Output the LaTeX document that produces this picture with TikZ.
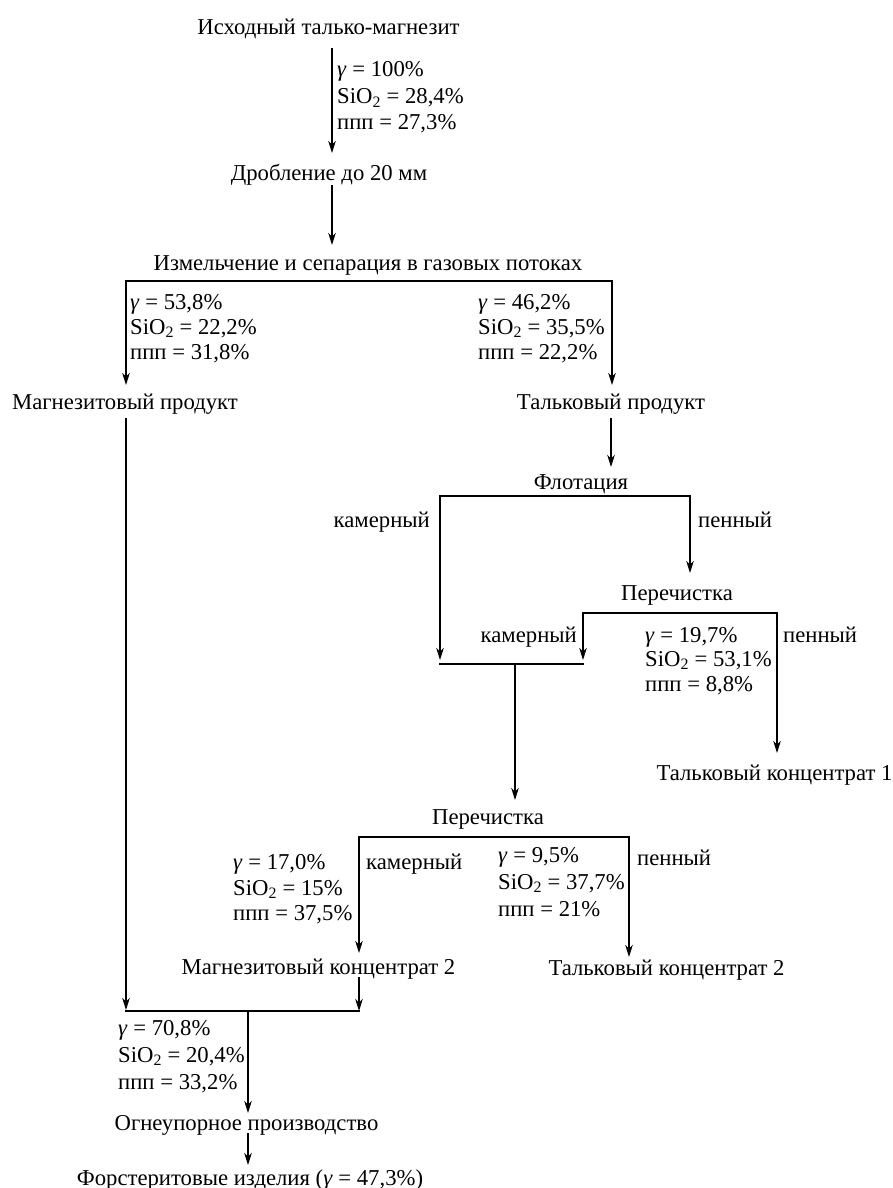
\documentclass[tikz,border=0pt]{standalone}
\usepackage{fontspec}
\setmainfont{Liberation Serif}
\usetikzlibrary{arrows.meta}
\newcommand{\gam}{\textit{γ}}
\begin{document}
\begin{tikzpicture}[x=1pt,y=-1pt,
  font=\fontsize{22.7}{26}\selectfont,
  txt/.style={inner sep=0pt, anchor=base},
  lbe/.style={inner sep=0pt, anchor=base east},
  lbw/.style={inner sep=0pt, anchor=base west},
  dat/.style={inner sep=0pt, anchor=base west},
  ln/.style={line width=1.2pt, line cap=rect},
  flow/.style={line width=1.2pt, -{Stealth[length=12pt,width=7.5pt,inset=3.5pt]}}]
\useasboundingbox (0,0) rectangle (893,1188);

% ---- text nodes ----
\node[txt] (t0) at (328.5,35) {Исходный талько-магнезит};
\node[txt] (t1) at (329,180) {Дробление до 20 мм};
\node[txt] (t2) at (368,270) {Измельчение и сепарация в газовых потоках};
\node[txt] (t3) at (125,409) {Магнезитовый продукт};
\node[txt] (t4) at (611,409) {Тальковый продукт};
\node[txt] (t5) at (581,489) {Флотация};
\node[lbe] (t6) at (430,527) {камерный};
\node[lbw] (t7) at (698,527) {пенный};
\node[txt] (t8) at (677,600) {Перечистка};
\node[lbe] (t9) at (577,642) {камерный};
\node[lbw] (t10) at (783,642) {пенный};
\node[txt] (t11) at (774.5,780) {Тальковый концентрат 1};
\node[txt] (t12) at (488,824) {Перечистка};
\node[lbw] (t13) at (366,869) {камерный};
\node[lbw] (t14) at (637,865) {пенный};
\node[txt] (t15) at (318.5,974) {Магнезитовый концентрат 2};
\node[txt] (t16) at (666.5,975) {Тальковый концентрат 2};
\node[txt] (t17) at (246.5,1130) {Огнеупорное производство};
\node[txt] (t18) at (250,1185) {Форстеритовые изделия (\gam{} = 47,3\%)};

% ---- data labels ----
\node[dat] (d0a) at (337,77)  {\gam{} = 100\%};
\node[dat] (d0b) at (337,104) {SiO\textsubscript{2} = 28,4\%};
\node[dat] (d0c) at (337,129) {ппп = 27,3\%};

\node[dat] (d1a) at (130,309) {\gam{} = 53,8\%};
\node[dat] (d1b) at (130,334) {SiO\textsubscript{2} = 22,2\%};
\node[dat] (d1c) at (130,359) {ппп = 31,8\%};

\node[dat] (d2a) at (478,309) {\gam{} = 46,2\%};
\node[dat] (d2b) at (478,334) {SiO\textsubscript{2} = 35,5\%};
\node[dat] (d2c) at (478,359) {ппп = 22,2\%};

\node[dat] (d3a) at (645,642) {\gam{} = 19,7\%};
\node[dat] (d3b) at (645,666) {SiO\textsubscript{2} = 53,1\%};
\node[dat] (d3c) at (645,691) {ппп = 8,8\%};

\node[dat] (d4a) at (233,869) {\gam{} = 17,0\%};
\node[dat] (d4b) at (233,895) {SiO\textsubscript{2} = 15\%};
\node[dat] (d4c) at (233,920) {ппп = 37,5\%};

\node[dat] (d5a) at (498,862) {\gam{} = 9,5\%};
\node[dat] (d5b) at (498,889) {SiO\textsubscript{2} = 37,7\%};
\node[dat] (d5c) at (498,916) {ппп = 21\%};

\node[dat] (d6a) at (118,1035) {\gam{} = 70,8\%};
\node[dat] (d6b) at (118,1062) {SiO\textsubscript{2} = 20,4\%};
\node[dat] (d6c) at (118,1089) {ппп = 33,2\%};

% ---- junction coordinates ----
\coordinate (a0s) at (332,48);   \coordinate (a0e) at (332,153);
\coordinate (a1s) at (332,185);  \coordinate (a1e) at (332,245);
\coordinate (s1)  at (368,281);
\coordinate (s1l) at (126,385);  \coordinate (s1r) at (612,385);
\coordinate (m1s) at (126,418);  \coordinate (m1e) at (126,1010);
\coordinate (m2)  at (248,1011);
\coordinate (m2l) at (126,1011); \coordinate (m2r) at (359,1011);
\coordinate (a4s) at (611,418);  \coordinate (a4e) at (611,467);
\coordinate (s2)  at (581,496);
\coordinate (s2l) at (440,660);  \coordinate (s2r) at (690,573);
\coordinate (s3)  at (677,613);
\coordinate (s3l) at (583,660);  \coordinate (s3r) at (777,753);
\coordinate (m3l) at (440,664);  \coordinate (m3r) at (583,664);
\coordinate (m3)  at (515,664);  \coordinate (m3e) at (515,800);
\coordinate (s4)  at (488,837);
\coordinate (s4l) at (359,953);  \coordinate (s4r) at (629,957);
\coordinate (a15s) at (359,977);
\coordinate (a17e) at (248,1113);
\coordinate (a18s) at (248,1133); \coordinate (a18e) at (248,1165);

% ---- connectors ----
\draw[flow] (a0s) -- (a0e);
\draw[flow] (a1s) -- (a1e);
\draw[flow] (s1) -| (s1l);
\draw[flow] (s1) -| (s1r);
\draw[flow] (m1s) -- (m1e);
\draw[flow] (a4s) -- (a4e);
\draw[flow] (s2) -| (s2l);
\draw[flow] (s2) -| (s2r);
\draw[flow] (s3) -| (s3l);
\draw[flow] (s3) -| (s3r);
\draw[ln] (m3l) -- (m3r);
\draw[flow] (m3) -- (m3e);
\draw[flow] (s4) -| (s4l);
\draw[flow] (s4) -| (s4r);
\draw[flow] (a15s) -- (m2r);
\draw[ln] (m2l) -- (m2r);
\draw[flow] (m2) -- (a17e);
\draw[flow] (a18s) -- (a18e);
\end{tikzpicture}
\end{document}
